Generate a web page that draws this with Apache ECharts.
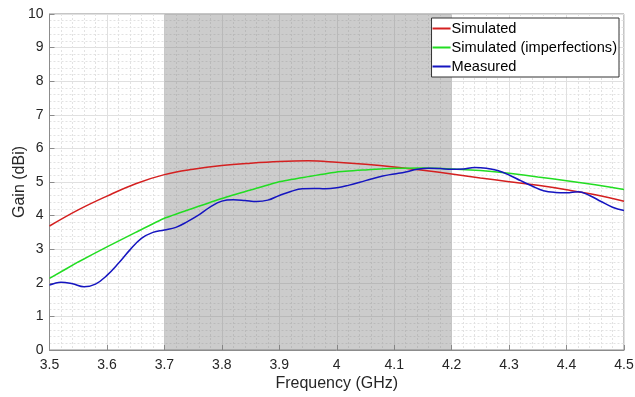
<!DOCTYPE html>
<html>
<head>
<meta charset="utf-8">
<script src="https://cdn.jsdelivr.net/npm/echarts@6/dist/echarts.min.js"></script>
<style>
  html, body { margin: 0; padding: 0; background: #fff; }
  #chart { width: 635px; height: 397px; }
</style>
</head>
<body>
<div id="chart"></div>
<script>
// simulated curves, sampled every 0.05 GHz
const freqSim = [3.5, 3.55, 3.6, 3.65, 3.7, 3.75, 3.8, 3.85, 3.9, 3.95, 4.0,
  4.05, 4.1, 4.15, 4.2, 4.25, 4.3, 4.35, 4.4, 4.45, 4.5]
const simulated = [3.69, 4.17, 4.58, 4.95, 5.22, 5.38, 5.49, 5.56, 5.61, 5.63, 5.59,
  5.53, 5.45, 5.35, 5.24, 5.12, 5.01, 4.9, 4.77, 4.62, 4.43]
const simImperf = [2.13, 2.62, 3.07, 3.5, 3.92, 4.22, 4.51, 4.76, 5.01, 5.16, 5.3,
  5.36, 5.41, 5.42, 5.39, 5.34, 5.26, 5.15, 5.04, 4.92, 4.78]

// measured curve, every 0.02 GHz
const freqMeas = [3.5, 3.52, 3.54, 3.56, 3.58, 3.6, 3.62, 3.64, 3.66, 3.68, 3.7,
  3.72, 3.74, 3.76, 3.78, 3.8, 3.82, 3.84, 3.86, 3.88, 3.9, 3.92, 3.94, 3.96, 3.98, 4.0,
  4.02, 4.04, 4.06, 4.08, 4.1, 4.12, 4.14, 4.16, 4.18, 4.2, 4.22, 4.24, 4.26, 4.28, 4.3,
  4.32, 4.34, 4.36, 4.38, 4.4, 4.42, 4.44, 4.46, 4.48, 4.5]
const measured = [1.93, 2.02, 1.97, 1.88, 1.96, 2.22, 2.58, 2.98, 3.32, 3.5, 3.57,
  3.65, 3.82, 4.02, 4.26, 4.43, 4.47, 4.45, 4.42, 4.46, 4.6, 4.72, 4.8, 4.81, 4.8, 4.83,
  4.9, 4.99, 5.09, 5.18, 5.24, 5.3, 5.38, 5.41, 5.4, 5.38, 5.39, 5.43, 5.41, 5.34, 5.21,
  5.04, 4.88, 4.74, 4.69, 4.68, 4.71, 4.6, 4.42, 4.25, 4.15]

const band = [3.7, 4.2]

const pairs = (xs, ys) => xs.map((x, i) => [x, ys[i]])

const chart = echarts.init(document.getElementById('chart'))

const font = 'Liberation Sans, Arial, sans-serif'
const boxColor = '#8c8c8c'

const option = {
  animation: false,
  grid: {
    left: 49.5,
    right: 11,
    top: 14,
    bottom: 47,
    containLabel: false,
    outerBoundsMode: 'none',
    show: true,
    borderColor: boxColor,
    borderWidth: 1,
  },
  legend: {
    orient: 'vertical',
    right: 16,
    top: 18,
    backgroundColor: '#fff',
    borderColor: '#333',
    borderWidth: 1,
    padding: [3, 2, 3, 1],
    itemGap: 4,
    itemWidth: 18,
    itemHeight: 2,
    icon: 'rect',
    textStyle: {
      fontFamily: font,
      fontSize: 14.6,
      color: '#000',
      padding: [0, 0, 0, -4],
    },
  },
  xAxis: {
    type: 'value',
    min: 3.5,
    max: 4.5,
    interval: 0.1,
    name: 'Frequency (GHz)',
    nameLocation: 'middle',
    nameGap: 26,
    nameMoveOverlap: false,
    nameTextStyle: { fontFamily: font, fontSize: 16, color: '#262626' },
    axisLine: { show: true, lineStyle: { color: boxColor } },
    axisTick: { show: true, inside: true, length: 5, lineStyle: { color: boxColor } },
    axisLabel: { fontFamily: font, fontSize: 14, color: '#262626', margin: 8 },
    splitLine: { show: true, lineStyle: { color: '#e0e0e0', width: 1 } },
    minorTick: { show: false, splitNumber: 5 },
    minorSplitLine: { show: true, lineStyle: { color: '#e2e2e2', type: [2, 2] } },
  },
  yAxis: {
    type: 'value',
    min: 0,
    max: 10,
    interval: 1,
    name: 'Gain (dBi)',
    nameLocation: 'middle',
    nameGap: 22,
    nameMoveOverlap: false,
    nameTextStyle: { fontFamily: font, fontSize: 16, color: '#262626' },
    axisLine: { show: true, lineStyle: { color: boxColor } },
    axisTick: { show: true, inside: true, length: 5, lineStyle: { color: boxColor } },
    axisLabel: { fontFamily: font, fontSize: 14, color: '#262626', margin: 6 },
    splitLine: { show: true, lineStyle: { color: '#e0e0e0', width: 1 } },
    minorTick: { show: false, splitNumber: 5 },
    minorSplitLine: { show: true, lineStyle: { color: '#e2e2e2', type: [2, 2] } },
  },
  series: [
    {
      name: 'Simulated',
      type: 'line',
      data: pairs(freqSim, simulated),
      smooth: 0.4,
      showSymbol: false,
      lineStyle: { color: '#d42020', width: 1.5 },
      itemStyle: { color: '#d42020' },
      markArea: {
        silent: true,
        itemStyle: { color: 'rgba(120,120,120,0.38)' },
        data: [[{ xAxis: band[0] }, { xAxis: band[1] }]],
      },
    },
    {
      name: 'Simulated (imperfections)',
      type: 'line',
      data: pairs(freqSim, simImperf),
      smooth: 0.15,
      showSymbol: false,
      lineStyle: { color: '#22dd22', width: 1.5 },
      itemStyle: { color: '#22dd22' },
    },
    {
      name: 'Measured',
      type: 'line',
      data: pairs(freqMeas, measured),
      smooth: 0.4,
      showSymbol: false,
      lineStyle: { color: '#1515c0', width: 1.5 },
      itemStyle: { color: '#1515c0' },
    },
  ],
}

chart.setOption(option)
</script>
</body>
</html>
